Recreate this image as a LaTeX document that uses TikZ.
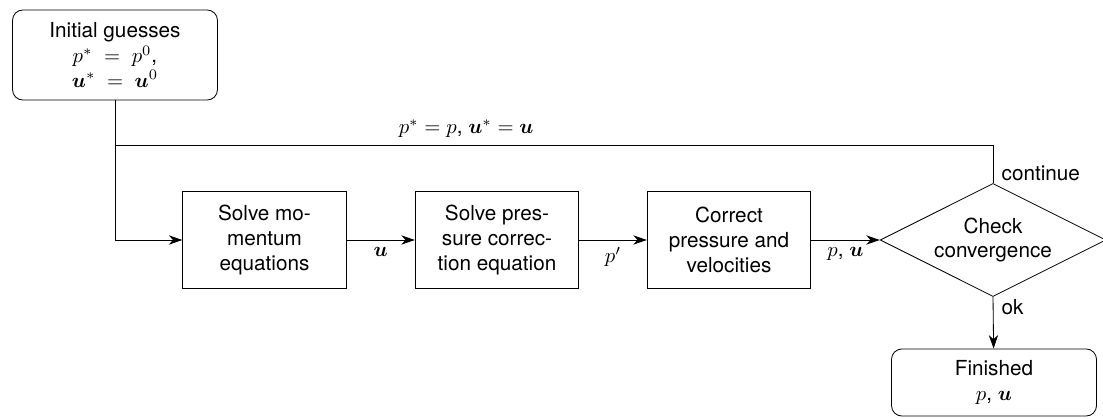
\documentclass[tikz,border=0pt]{standalone}
\usepackage{amsmath,bm}
\usepackage{fontspec}
\setmainfont{TeX Gyre Heros}
\usetikzlibrary{arrows.meta,shapes.geometric}

\begin{document}
\begin{tikzpicture}[x=0.483pt,y=-0.483pt,>={Stealth[length=6.5pt,width=4.5pt,inset=2pt]},
 stepbox/.style={rectangle,draw,minimum width=79pt,minimum height=47pt,align=center,inner sep=2pt},
 endbox/.style={rectangle,draw,rounded corners=5pt,minimum width=99pt,align=center},
 decision/.style={diamond,draw,aspect=2,minimum width=109pt,minimum height=54.6pt,inner sep=0pt,align=center}]
 \useasboundingbox (0,0) rectangle (1103,419);
 \node[endbox,minimum height=43.5pt] (init) at (115,55) {Initial guesses\\$p^*\;=\;p^0$,\\$\bm{u}^*\;=\;\bm{u}^0$};
 \node[stepbox] (mom) at (264.5,240) {Solve mo-\\mentum\\equations};
 \node[stepbox] (pc) at (497,240) {Solve pres-\\sure correc-\\tion equation};
 \node[stepbox] (corr) at (729,240) {Correct\\pressure and\\velocities};
 \node[decision] (check) at (993,240) {Check\\convergence};
 \node[endbox,minimum height=32.4pt] (done) at (994,382.5) {Finished\\$p$, $\bm{u}$};
 \coordinate (join) at (115,145);
 \draw[->] (init) |- (mom);
 \draw[->] (mom) -- node[below] {$\bm{u}$} (pc);
 \draw[->] (pc) -- node[below] {$p'$} (corr);
 \draw[->] (corr) -- node[below] {$p$, $\bm{u}$} (check);
 \draw[->] (check.south) -- node[pos=0,anchor=north west,inner sep=1pt,xshift=3pt] {ok} (done);
 % loop back to the start
 \draw (check.north) node[anchor=south west,inner sep=1pt,xshift=3pt] {continue}
   |- node[pos=0.8,above] {$p^*=p$, $\bm{u}^*=\bm{u}$} (join);
\end{tikzpicture}
\end{document}
